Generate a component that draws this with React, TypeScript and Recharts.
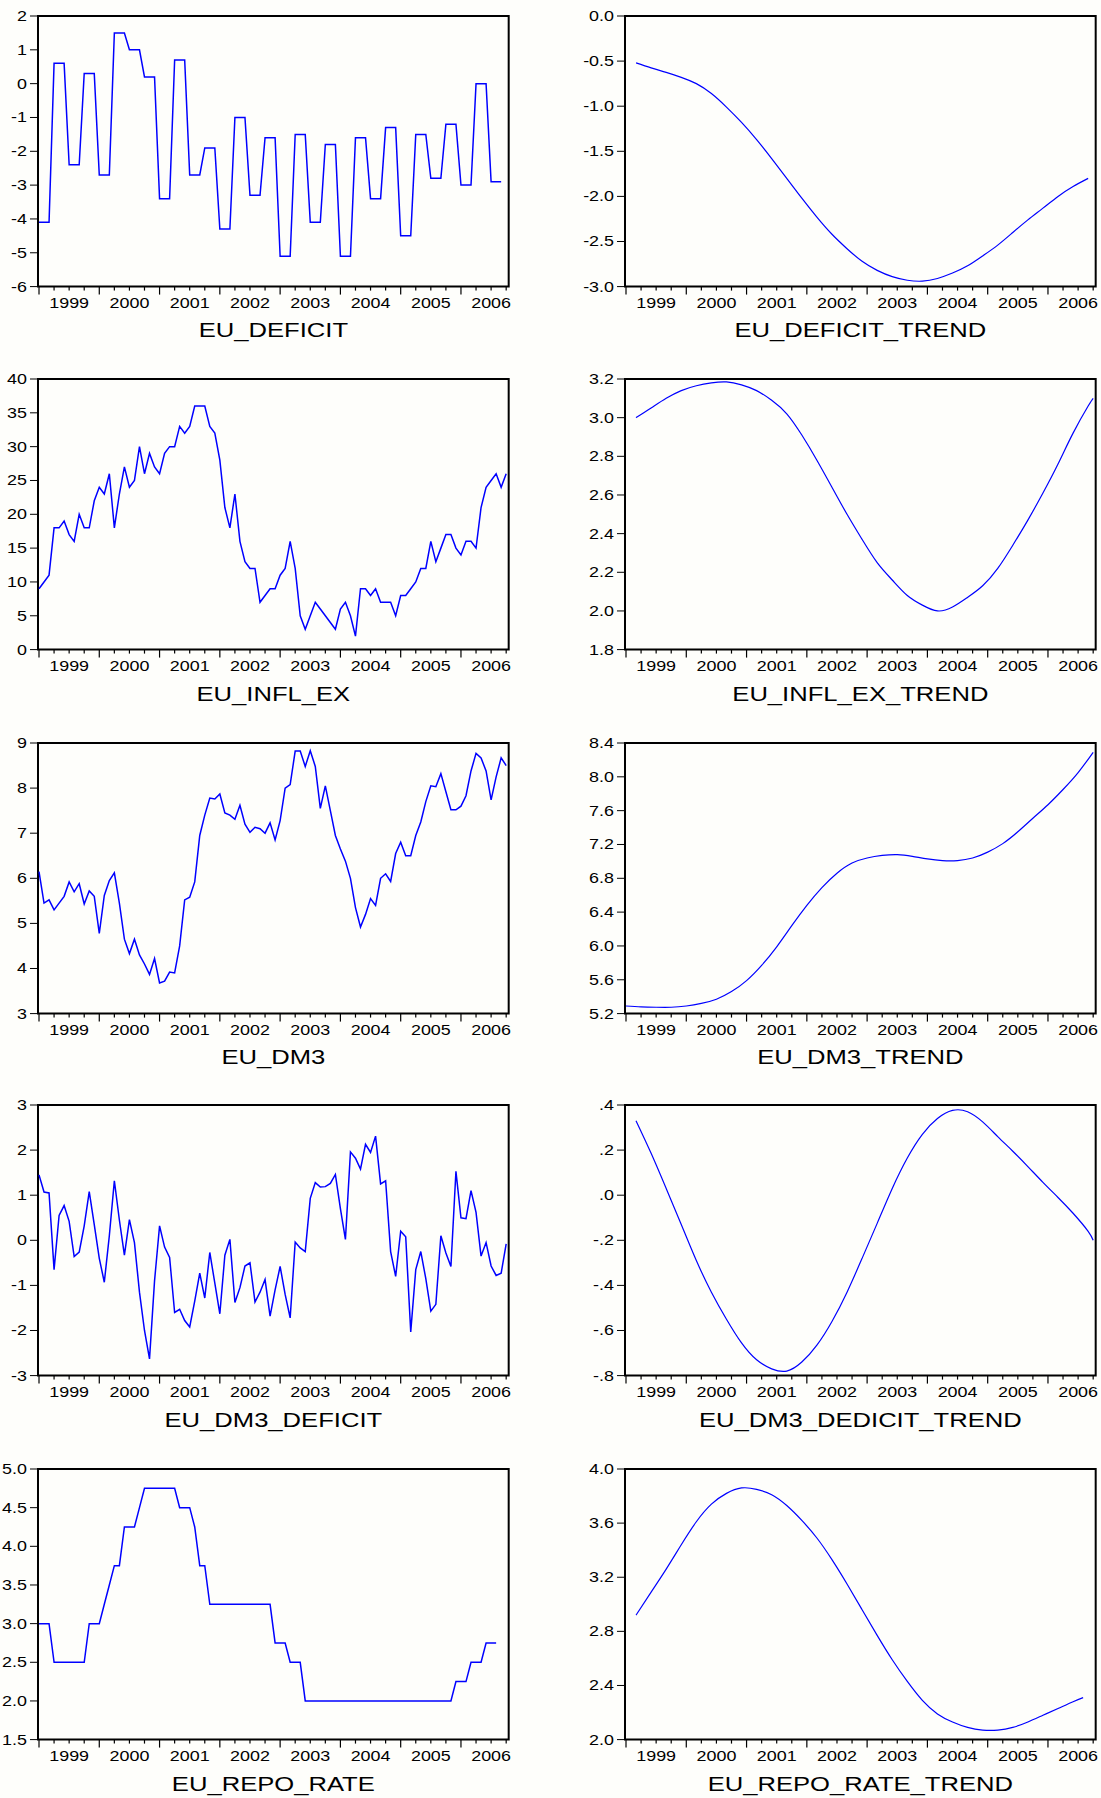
import React from 'react';
import { LineChart, Line, XAxis, YAxis, ReferenceArea } from 'recharts';

// ---------- axis labels ----------
const yearLabels = ['1999', '2000', '2001', '2002', '2003', '2004', '2005', '2006'];
const quarterTicks = [0, 3, 6, 9, 12, 15, 18, 21, 24, 27, 30, 33, 36, 39, 42, 45, 48, 51, 54, 57, 60, 63, 66, 69, 72, 75, 78, 81, 84, 87, 90, 93];

// ---------- left column series (monthly, index 0 = 1999M01) ----------
const euDeficitQuarterly = [-4.1, 0.6, -2.4, 0.3, -2.7, 1.5, 1.0, 0.2, -3.4, 0.7, -2.7, -1.9, -4.3, -1.0, -3.3, -1.6, -5.1, -1.5, -4.1, -1.8, -5.1, -1.6, -3.4, -1.3, -4.5, -1.5, -2.8, -1.2, -3.0, 0.0, -2.9];

const euInflEx = [
  9, 10, 11, 18, 18, 19, 17, 16, 20, 18,
  18, 22, 24, 23, 26, 18, 23, 27, 24, 25,
  30, 26, 29, 27, 26, 29, 30, 30, 33, 32,
  33, 36, 36, 36, 33, 32, 28, 21, 18, 23,
  16, 13, 12, 12, 7, 8, 9, 9, 11, 12,
  16, 12, 5, 3, 5, 7, 6, 5, 4, 3,
  6, 7, 5, 2, 9, 9, 8, 9, 7, 7,
  7, 5, 8, 8, 9, 10, 12, 12, 16, 13,
  15, 17, 17, 15, 14, 16, 16, 15, 21, 24,
  25, 26, 24, 26,
];

const euDm3 = [
  6.15, 5.45, 5.52, 5.30, 5.45, 5.60, 5.92, 5.70, 5.88, 5.43,
  5.72, 5.60, 4.78, 5.62, 5.95, 6.12, 5.45, 4.65, 4.33, 4.65,
  4.30, 4.10, 3.87, 4.22, 3.68, 3.72, 3.92, 3.90, 4.50, 5.52,
  5.58, 5.92, 6.95, 7.40, 7.78, 7.76, 7.87, 7.45, 7.40, 7.31,
  7.62, 7.20, 7.02, 7.13, 7.10, 7.00, 7.23, 6.85, 7.28, 8.00,
  8.08, 8.82, 8.82, 8.48, 8.83, 8.48, 7.55, 8.05, 7.50, 6.95,
  6.65, 6.38, 6.00, 5.35, 4.92, 5.20, 5.55, 5.40, 6.00, 6.10,
  5.93, 6.55, 6.80, 6.50, 6.50, 6.95, 7.25, 7.70, 8.05, 8.03,
  8.32, 7.92, 7.52, 7.52, 7.60, 7.83, 8.38, 8.77, 8.67, 8.38,
  7.74, 8.25, 8.67, 8.50,
];

const euDm3Deficit = [
  1.45, 1.07, 1.05, -0.65, 0.55, 0.77, 0.42, -0.36, -0.26, 0.32,
  1.08, 0.35, -0.40, -0.93, 0.10, 1.32, 0.45, -0.33, 0.46, -0.05,
  -1.15, -2.00, -2.63, -0.90, 0.32, -0.15, -0.38, -1.60, -1.53, -1.78,
  -1.92, -1.35, -0.73, -1.28, -0.27, -0.95, -1.63, -0.33, 0.02, -1.38,
  -1.05, -0.57, -0.50, -1.37, -1.15, -0.87, -1.68, -1.10, -0.58, -1.20,
  -1.72, -0.04, -0.17, -0.25, 0.93, 1.28, 1.18, 1.19, 1.26, 1.46,
  0.70, 0.02, 1.96, 1.82, 1.58, 2.13, 1.95, 2.31, 1.25, 1.32,
  -0.25, -0.80, 0.20, 0.08, -2.03, -0.65, -0.25, -0.85, -1.57, -1.42,
  0.10, -0.28, -0.58, 1.53, 0.50, 0.48, 1.10, 0.62, -0.35, -0.05,
  -0.57, -0.78, -0.73, -0.08,
];

const euRepoRate = [
  3.0, 3.0, 3.0, 2.5, 2.5, 2.5, 2.5, 2.5, 2.5, 2.5,
  3.0, 3.0, 3.0, 3.25, 3.5, 3.75, 3.75, 4.25, 4.25, 4.25,
  4.5, 4.75, 4.75, 4.75, 4.75, 4.75, 4.75, 4.75, 4.5, 4.5,
  4.5, 4.25, 3.75, 3.75, 3.25, 3.25, 3.25, 3.25, 3.25, 3.25,
  3.25, 3.25, 3.25, 3.25, 3.25, 3.25, 3.25, 2.75, 2.75, 2.75,
  2.5, 2.5, 2.5, 2.0, 2.0, 2.0, 2.0, 2.0, 2.0, 2.0,
  2.0, 2.0, 2.0, 2.0, 2.0, 2.0, 2.0, 2.0, 2.0, 2.0,
  2.0, 2.0, 2.0, 2.0, 2.0, 2.0, 2.0, 2.0, 2.0, 2.0,
  2.0, 2.0, 2.0, 2.25, 2.25, 2.25, 2.5, 2.5, 2.5, 2.75,
  2.75, 2.75,
];

// ---------- right column trend series (read every third month) ----------
const trendMonthsA = [2, 5, 8, 11, 14, 17, 20, 23, 26, 29, 32, 35, 38, 41, 44, 47, 50, 53, 56, 59, 62, 65, 68, 71, 74, 77, 80, 83, 86, 89, 92];
const trendMonthsB = [2, 5, 8, 11, 14, 17, 20, 23, 26, 29, 32, 35, 38, 41, 44, 47, 50, 53, 56, 59, 62, 65, 68, 71, 74, 77, 80, 83, 86, 89, 92, 93];
const trendMonthsC = [0, 3, 6, 9, 12, 15, 18, 21, 24, 27, 30, 33, 36, 39, 42, 45, 48, 51, 54, 57, 60, 63, 66, 69, 72, 75, 78, 81, 84, 87, 90, 93];
const trendMonthsD = [2, 5, 8, 11, 14, 17, 20, 23, 26, 29, 32, 35, 38, 41, 44, 47, 50, 53, 56, 59, 62, 65, 68, 71, 74, 77, 80, 83, 86, 89, 91];

const euDeficitTrend = [-0.52, -0.575, -0.625, -0.68, -0.75, -0.86, -1.01, -1.18, -1.37, -1.58, -1.80, -2.02, -2.23, -2.42, -2.58, -2.72, -2.82, -2.89, -2.93, -2.94, -2.91, -2.85, -2.77, -2.66, -2.54, -2.40, -2.26, -2.13, -2.00, -1.89, -1.80];
const euInflExTrend = [3.00, 3.05, 3.10, 3.14, 3.165, 3.18, 3.185, 3.17, 3.14, 3.09, 3.02, 2.91, 2.78, 2.64, 2.50, 2.37, 2.25, 2.16, 2.08, 2.03, 2.00, 2.02, 2.07, 2.13, 2.22, 2.34, 2.47, 2.61, 2.76, 2.92, 3.06, 3.10];
const euDm3Trend = [5.29, 5.28, 5.275, 5.275, 5.29, 5.32, 5.37, 5.46, 5.59, 5.77, 5.99, 6.24, 6.48, 6.69, 6.86, 6.98, 7.04, 7.07, 7.08, 7.06, 7.03, 7.01, 7.01, 7.04, 7.11, 7.21, 7.35, 7.51, 7.67, 7.85, 8.05, 8.29];
const euDm3DedicitTrend = [0.33, 0.186, 0.03, -0.13, -0.29, -0.43, -0.55, -0.655, -0.73, -0.77, -0.78, -0.74, -0.665, -0.56, -0.43, -0.28, -0.125, 0.03, 0.165, 0.27, 0.34, 0.376, 0.37, 0.325, 0.26, 0.195, 0.127, 0.057, -0.01, -0.08, -0.16, -0.20];
const euRepoRateTrend = [2.92, 3.09, 3.26, 3.44, 3.61, 3.74, 3.82, 3.86, 3.85, 3.81, 3.73, 3.62, 3.49, 3.33, 3.15, 2.96, 2.77, 2.59, 2.43, 2.29, 2.19, 2.13, 2.09, 2.07, 2.07, 2.09, 2.13, 2.18, 2.23, 2.28, 2.31];

// ---------- y tick values and labels ----------
const deficitTicks = [2, 1, 0, -1, -2, -3, -4, -5, -6];
const deficitLabels = ['2', '1', '0', '-1', '-2', '-3', '-4', '-5', '-6'];
const inflTicks = [40, 35, 30, 25, 20, 15, 10, 5, 0];
const inflLabels = ['40', '35', '30', '25', '20', '15', '10', '5', '0'];
const dm3Ticks = [9, 8, 7, 6, 5, 4, 3];
const dm3Labels = ['9', '8', '7', '6', '5', '4', '3'];
const dm3DefTicks = [3, 2, 1, 0, -1, -2, -3];
const dm3DefLabels = ['3', '2', '1', '0', '-1', '-2', '-3'];
const repoTicks = [5.0, 4.5, 4.0, 3.5, 3.0, 2.5, 2.0, 1.5];
const repoLabels = ['5.0', '4.5', '4.0', '3.5', '3.0', '2.5', '2.0', '1.5'];
const deficitTrendTicks = [0, -0.5, -1.0, -1.5, -2.0, -2.5, -3.0];
const deficitTrendLabels = ['0.0', '-0.5', '-1.0', '-1.5', '-2.0', '-2.5', '-3.0'];
const inflTrendTicks = [3.2, 3.0, 2.8, 2.6, 2.4, 2.2, 2.0, 1.8];
const inflTrendLabels = ['3.2', '3.0', '2.8', '2.6', '2.4', '2.2', '2.0', '1.8'];
const dm3TrendTicks = [8.4, 8.0, 7.6, 7.2, 6.8, 6.4, 6.0, 5.6, 5.2];
const dm3TrendLabels = ['8.4', '8.0', '7.6', '7.2', '6.8', '6.4', '6.0', '5.6', '5.2'];
const dedicitTrendTicks = [0.4, 0.2, 0, -0.2, -0.4, -0.6, -0.8];
const dedicitTrendLabels = ['.4', '.2', '.0', '-.2', '-.4', '-.6', '-.8'];
const repoTrendTicks = [4.0, 3.6, 3.2, 2.8, 2.4, 2.0];
const repoTrendLabels = ['4.0', '3.6', '3.2', '2.8', '2.4', '2.0'];

// ---------- data builders ----------
const monthly = (vals: number[]) => vals.map((v, i) => ({ i, v }));
const fromQuarterly = (q: number[]) => {
  const rows: { i: number; v: number }[] = [];
  q.forEach((v, k) => {
    rows.push({ i: k * 3, v }, { i: k * 3 + 1, v }, { i: k * 3 + 2, v });
  });
  return rows;
};
const paired = (months: number[], vals: number[]) => vals.map((v, k) => ({ i: months[k], v }));

const FONT = '"Liberation Sans", Arial, Helvetica, sans-serif';
const SX = 1.28;
const X_DOMAIN: [number, number] = [-0.2, 93.5];
const PLOT_W = 470.7;
const PLOT_H = 270.6;
const LEFT_X = 37.7;
const RIGHT_X = 625.3;
const ROW_TOPS = [15.5, 379, 742.7, 1105.3, 1469];
const Y_AXIS_W = 64;

function XTick(props: any) {
  const { x, y, payload } = props;
  const v = payload.value as number;
  const major = v % 12 === 0;
  const label = v % 12 === 6 ? yearLabels[(v - 6) / 12] : null;
  return (
    <g>
      <line x1={x} x2={x} y1={y} y2={y + (major ? 8 : 4)} stroke="#000" strokeWidth={1.2} />
      {label && (
        <text
          transform={`translate(${x},${y + 21.5}) scale(${SX},1)`}
          textAnchor="middle"
          fontSize={14}
          fontFamily={FONT}
          fill="#000"
        >
          {label}
        </text>
      )}
    </g>
  );
}

function YTick(props: any) {
  const { x, y, payload, ticks, labels } = props;
  const v = payload.value as number;
  const idx = ticks.findIndex((t: number) => Math.abs(t - v) < 1e-9);
  const label = idx >= 0 ? labels[idx] : String(v);
  return (
    <g>
      <line x1={x - 8} x2={x} y1={y} y2={y} stroke="#000" strokeWidth={1} />
      <text
        transform={`translate(${x - 11},${y + 5}) scale(${SX},1)`}
        textAnchor="end"
        fontSize={14}
        fontFamily={FONT}
        fill="#000"
      >
        {label}
      </text>
    </g>
  );
}

type PanelProps = {
  data: { i: number; v: number }[];
  yDomain: [number, number];
  yTicks: number[];
  yLabels: string[];
  title: string;
  left: number;
  top: number;
  smooth?: boolean;
};

function Panel({ data, yDomain, yTicks, yLabels, title, left, top, smooth }: PanelProps) {
  const chartW = Y_AXIS_W + PLOT_W + 10;
  const chartH = 10 + PLOT_H + 40;
  return (
    <>
      <div style={{ position: 'absolute', left: left - Y_AXIS_W, top: top - 10, width: chartW, height: chartH }}>
        <LineChart width={chartW} height={chartH} data={data} margin={{ top: 10, right: 10, left: 0, bottom: 0 }}>
          <XAxis
            dataKey="i"
            type="number"
            domain={X_DOMAIN}
            allowDataOverflow
            ticks={quarterTicks}
            interval={0}
            tickSize={0}
            tickMargin={0}
            tickLine={false}
            axisLine={false}
            height={40}
            tick={(p: any) => <XTick {...p} />}
          />
          <YAxis
            type="number"
            domain={yDomain}
            allowDataOverflow
            ticks={yTicks}
            interval={0}
            tickSize={0}
            tickMargin={0}
            tickLine={false}
            axisLine={false}
            width={Y_AXIS_W}
            tick={(p: any) => <YTick {...p} ticks={yTicks} labels={yLabels} />}
          />
          <Line
            dataKey="v"
            type={smooth ? 'natural' : 'linear'}
            stroke="#0000ff"
            strokeWidth={smooth ? 1.2 : 1.5}
            dot={false}
            activeDot={false}
            isAnimationActive={false}
            connectNulls
          />
          <ReferenceArea
            x1={X_DOMAIN[0]}
            x2={X_DOMAIN[1]}
            y1={yDomain[0]}
            y2={yDomain[1]}
            fill="none"
            fillOpacity={0}
            stroke="#000"
            strokeWidth={2}
            ifOverflow="visible"
          />
        </LineChart>
      </div>
      <div
        style={{
          position: 'absolute',
          left,
          top: top + PLOT_H + 34,
          width: PLOT_W,
          textAlign: 'center',
          fontFamily: FONT,
          fontSize: 20,
          lineHeight: '20px',
          color: '#000',
          transform: `scaleX(${SX})`,
          whiteSpace: 'nowrap',
        }}
      >
        {title}
      </div>
    </>
  );
}

export default function App() {
  return (
    <div
      style={{
        position: 'absolute',
        left: 0,
        top: 0,
        width: 1101,
        height: 1798,
        overflow: 'hidden',
        background: '#fefefb',
      }}
    >
      <Panel data={fromQuarterly(euDeficitQuarterly)} yDomain={[-6, 2]} yTicks={deficitTicks} yLabels={deficitLabels} title="EU_DEFICIT" left={LEFT_X} top={ROW_TOPS[0]} />
      <Panel data={paired(trendMonthsA, euDeficitTrend)} yDomain={[-3, 0]} yTicks={deficitTrendTicks} yLabels={deficitTrendLabels} title="EU_DEFICIT_TREND" left={RIGHT_X} top={ROW_TOPS[0]} smooth />

      <Panel data={monthly(euInflEx)} yDomain={[0, 40]} yTicks={inflTicks} yLabels={inflLabels} title="EU_INFL_EX" left={LEFT_X} top={ROW_TOPS[1]} />
      <Panel data={paired(trendMonthsB, euInflExTrend)} yDomain={[1.8, 3.2]} yTicks={inflTrendTicks} yLabels={inflTrendLabels} title="EU_INFL_EX_TREND" left={RIGHT_X} top={ROW_TOPS[1]} smooth />

      <Panel data={monthly(euDm3)} yDomain={[3, 9]} yTicks={dm3Ticks} yLabels={dm3Labels} title="EU_DM3" left={LEFT_X} top={ROW_TOPS[2]} />
      <Panel data={paired(trendMonthsC, euDm3Trend)} yDomain={[5.2, 8.4]} yTicks={dm3TrendTicks} yLabels={dm3TrendLabels} title="EU_DM3_TREND" left={RIGHT_X} top={ROW_TOPS[2]} smooth />

      <Panel data={monthly(euDm3Deficit)} yDomain={[-3, 3]} yTicks={dm3DefTicks} yLabels={dm3DefLabels} title="EU_DM3_DEFICIT" left={LEFT_X} top={ROW_TOPS[3]} />
      <Panel data={paired(trendMonthsB, euDm3DedicitTrend)} yDomain={[-0.8, 0.4]} yTicks={dedicitTrendTicks} yLabels={dedicitTrendLabels} title="EU_DM3_DEDICIT_TREND" left={RIGHT_X} top={ROW_TOPS[3]} smooth />

      <Panel data={monthly(euRepoRate)} yDomain={[1.5, 5.0]} yTicks={repoTicks} yLabels={repoLabels} title="EU_REPO_RATE" left={LEFT_X} top={ROW_TOPS[4]} />
      <Panel data={paired(trendMonthsD, euRepoRateTrend)} yDomain={[2.0, 4.0]} yTicks={repoTrendTicks} yLabels={repoTrendLabels} title="EU_REPO_RATE_TREND" left={RIGHT_X} top={ROW_TOPS[4]} smooth />
    </div>
  );
}
